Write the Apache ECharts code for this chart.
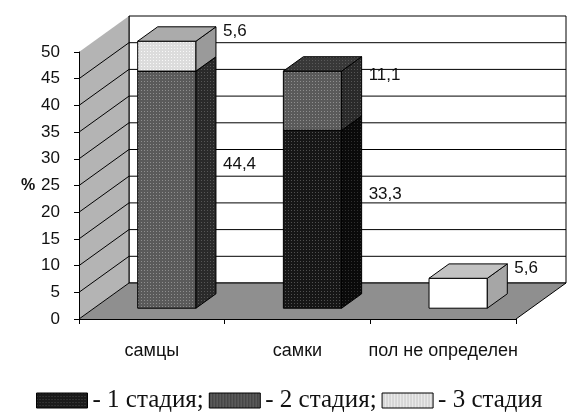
<!DOCTYPE html>
<html>
<head>
<meta charset="utf-8">
<script src="https://cdn.jsdelivr.net/npm/echarts@6/dist/echarts.min.js"></script>
<style>
  html, body { margin: 0; padding: 0; background: #fff; }
  #chart { width: 567px; height: 414px; }
</style>
</head>
<body>
<div id="chart"></div>
<script>
// ---- data ----
const categories = ['самцы', 'самки', 'пол не определен'];
const stageNames = ['1 стадия', '2 стадия', '3 стадия'];
const stage1 = [0, 33.3, 0];
const stage2 = [44.4, 11.1, 0];
const stage3 = [5.6, 0, 5.6];
const yTicks = [0, 5, 10, 15, 20, 25, 30, 35, 40, 45, 50];

// ---- 3D look ----
const DEPTH_X = 50, DEPTH_Y = -36;      // wall depth offset
const BAR_FRONT = 0.3, BAR_DEPTH = 0.4; // bar position inside the depth
const BAR_WIDTH = 0.4;                  // share of the category band
const plainColumns = ['пол не определен'];

function dotPattern(bg, dot, step, r) {
  const c = document.createElement('canvas');
  c.width = c.height = step;
  const g = c.getContext('2d');
  g.fillStyle = bg; g.fillRect(0, 0, step, step);
  g.fillStyle = dot; g.fillRect(0, 0, r, r);
  return { image: c, repeat: 'repeat' };
}
function stripePattern(bg, line) {
  const c = document.createElement('canvas');
  c.width = 3; c.height = 3;
  const g = c.getContext('2d');
  g.fillStyle = bg; g.fillRect(0, 0, 3, 3);
  g.fillStyle = line; g.fillRect(0, 0, 1, 3);
  return { image: c, repeat: 'repeat' };
}

const faceStyles = [
  { front: dotPattern('#161616', '#505050', 3, 1), side: dotPattern('#0a0a0a', '#303030', 3, 1), top: '#262626' },
  { front: dotPattern('#5a5a5a', '#8e8e8e', 3, 1), side: dotPattern('#2a2a2a', '#565656', 3, 1), top: dotPattern('#383838', '#5a5a5a', 3, 1) },
  { front: dotPattern('#dcdcdc', '#f8f8f8', 3, 1), side: '#9a9a9a', top: '#ababab' }
];
const plainFace = { front: '#ffffff', side: '#a6a6a6', top: '#c2c2c2' };
const legendFills = [
  dotPattern('#1a1a1a', '#4a4a4a', 3, 1),
  stripePattern('#5a5a5a', '#3e3e3e'),
  stripePattern('#d6d6d6', '#ececec')
];

const stages = [stage1, stage2, stage3];
const fmt = v => String(v).replace('.', ',');

// stacked segments [categoryIndex, bottom, top, value]
const base = categories.map(() => 0);
const stageData = stages.map(values => {
  const out = [];
  values.forEach((v, i) => {
    if (v > 0) out.push([i, base[i], base[i] + v, v]);
    base[i] += v;
  });
  return out;
});

function renderWalls(params, api) {
  const cs = params.coordSys;
  const x0 = cs.x, x1 = cs.x + cs.width;
  const yOf = v => api.coord([0, v])[1];
  const yTop = yOf(yTicks[yTicks.length - 1]), yBot = yOf(0);
  const line = { stroke: '#000', lineWidth: 1 };
  const children = [
    { type: 'polygon', shape: { points: [[x0 + DEPTH_X, yTop + DEPTH_Y], [x1 + DEPTH_X, yTop + DEPTH_Y], [x1 + DEPTH_X, yBot + DEPTH_Y], [x0 + DEPTH_X, yBot + DEPTH_Y]] },
      style: { fill: '#fff', stroke: '#000', lineWidth: 1 } },
    { type: 'polygon', shape: { points: [[x0, yTop], [x0 + DEPTH_X, yTop + DEPTH_Y], [x0 + DEPTH_X, yBot + DEPTH_Y], [x0, yBot]] },
      style: { fill: '#b4b4b4' } },
    { type: 'polygon', shape: { points: [[x0, yBot], [x0 + DEPTH_X, yBot + DEPTH_Y], [x1 + DEPTH_X, yBot + DEPTH_Y], [x1, yBot]] },
      style: { fill: '#8f8f8f' } },
    { type: 'line', shape: { x1: x0 + DEPTH_X, y1: yTop + DEPTH_Y, x2: x0 + DEPTH_X, y2: yBot + DEPTH_Y }, style: line },
    { type: 'line', shape: { x1: x1, y1: yBot, x2: x1 + DEPTH_X, y2: yBot + DEPTH_Y }, style: line }
  ];
  yTicks.forEach(v => {
    if (v === yTicks[yTicks.length - 1]) return;
    const y = yOf(v);
    children.push({ type: 'line', shape: { x1: x0 + DEPTH_X, y1: y + DEPTH_Y, x2: x1 + DEPTH_X, y2: y + DEPTH_Y }, style: line });
    children.push({ type: 'line', shape: { x1: x0, y1: y, x2: x0 + DEPTH_X, y2: y + DEPTH_Y }, style: line });
  });
  return { type: 'group', children };
}

function renderBox(stageIdx) {
  return function (params, api) {
    const ci = api.value(0), lo = api.value(1), hi = api.value(2), val = api.value(3);
    const band = api.size([1, 0])[0];
    const p0 = api.coord([ci, lo]), p1 = api.coord([ci, hi]);
    const w = band * BAR_WIDTH;
    const dx = DEPTH_X * BAR_DEPTH, dy = DEPTH_Y * BAR_DEPTH;
    const xl = p0[0] - w / 2 + DEPTH_X * BAR_FRONT, xr = xl + w;
    const yb = p0[1] + DEPTH_Y * BAR_FRONT, yt = p1[1] + DEPTH_Y * BAR_FRONT;
    const face = plainColumns.includes(categories[ci]) ? plainFace : faceStyles[stageIdx];
    const edge = { stroke: '#000', lineWidth: 1 };
    const yLabel = api.coord([ci, (lo + hi) / 2])[1] + DEPTH_Y;
    return {
      type: 'group',
      children: [
        { type: 'polygon', shape: { points: [[xl, yt], [xr, yt], [xr, yb], [xl, yb]] }, style: Object.assign({ fill: face.front }, edge) },
        { type: 'polygon', shape: { points: [[xr, yt], [xr + dx, yt + dy], [xr + dx, yb + dy], [xr, yb]] }, style: Object.assign({ fill: face.side }, edge) },
        { type: 'polygon', shape: { points: [[xl, yt], [xl + dx, yt + dy], [xr + dx, yt + dy], [xr, yt]] }, style: Object.assign({ fill: face.top }, edge) },
        { type: 'text', style: { text: fmt(val), x: xr + dx + 7, y: yLabel, fill: '#111',
          font: '17px "Liberation Sans", Arial, sans-serif', verticalAlign: 'middle', align: 'left' } }
      ]
    };
  };
}

const chart = echarts.init(document.getElementById('chart'), null, { renderer: 'canvas' });
chart.setOption({
  animation: false,
  backgroundColor: '#fff',
  grid: { left: 79, right: 51, top: 52, bottom: 95 },
  xAxis: {
    type: 'category', data: categories, z: 5,
    axisLine: { lineStyle: { color: '#000', width: 1 } },
    axisTick: { show: true, length: 5, lineStyle: { color: '#000' } },
    axisLabel: { interval: 0, color: '#111', fontSize: 18, fontFamily: '"Liberation Sans", Arial, sans-serif', margin: 23 }
  },
  yAxis: {
    type: 'value', min: 0, max: 50, interval: 5, z: 5,
    name: '%', nameLocation: 'middle', nameRotate: 0, nameGap: 36,
    nameTextStyle: { color: '#111', fontSize: 16, fontWeight: 'bold', fontFamily: '"Liberation Sans", Arial, sans-serif' },
    splitLine: { show: false },
    axisLine: { show: true, lineStyle: { color: '#000', width: 1 } },
    axisTick: { show: true, length: 5, lineStyle: { color: '#000' } },
    axisLabel: { color: '#111', fontSize: 17, fontFamily: '"Liberation Sans", Arial, sans-serif', margin: 19 }
  },
  legend: {
    data: stageNames, left: 36, top: 388, padding: 0,
    itemWidth: 51, itemHeight: 15, itemGap: 5, icon: 'rect',
    itemStyle: { borderColor: '#000', borderWidth: 1 },
    formatter: name => '- ' + name + (name === stageNames[stageNames.length - 1] ? '' : ';'),
    textStyle: { color: '#111', fontSize: 25, fontFamily: '"Liberation Serif", "Times New Roman", serif' }
  },
  series: [
    { type: 'custom', name: 'walls', z: 1, silent: true, renderItem: renderWalls, data: [[0, 0]],
      encode: { x: 0, y: 1 } }
  ].concat(stageNames.map((n, k) => ({
    type: 'custom', name: n, z: 2,
    itemStyle: { color: legendFills[k] },
    renderItem: renderBox(k),
    encode: { x: 0, y: [1, 2] },
    data: stageData[k]
  })))
});
</script>
</body>
</html>
